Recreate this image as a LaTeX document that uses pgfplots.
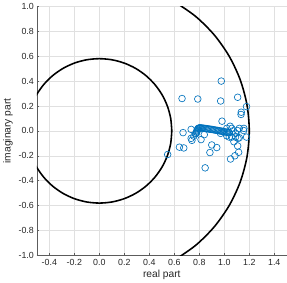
\documentclass[border=0pt]{standalone}
\usepackage{pgfplots}
\pgfplotsset{compat=1.18}
\usepackage{fontspec}
\setmainfont{Liberation Sans}
\definecolor{mblue}{RGB}{0,114,189}
\definecolor{gridc}{gray}{0.88}
\definecolor{axc}{gray}{0.15}
\begin{document}
\begin{tikzpicture}
\begin{axis}[
  scale only axis,
  width=254pt, height=253pt,
  xmin=-0.5, xmax=1.5, ymin=-1, ymax=1,
  xtick={-0.4,-0.2,0,0.2,0.4,0.6,0.8,1.0,1.2,1.4},
  ytick={-1,-0.8,-0.6,-0.4,-0.2,0,0.2,0.4,0.6,0.8,1.0},
  /pgf/number format/assume math mode=true,
  /pgf/number format/.cd, fixed, fixed zerofill, precision=1, /pgfplots/.cd,
  tick label style={font=\fontsize{9}{10}\selectfont, text=axc},
  label style={font=\fontsize{10.4}{12}\selectfont, text=axc},
  xticklabel style={yshift=-1pt},
  yticklabel style={xshift=0.5pt},
  xlabel={real part}, ylabel={imaginary part},
  xlabel style={yshift=3pt}, ylabel style={yshift=-1pt},
  axis x line*=bottom, axis y line*=left,
  axis line style={-, draw=axc!75, line width=0.5pt},
  tick align=inside, major tick length=2.5pt,
  tick style={draw=axc!75, line width=0.5pt},
  grid=major, major grid style={draw=gridc, line width=0.4pt},
  clip=true,
]
% inner circle r=0.58
\addplot[black, line width=1.6pt, smooth] coordinates {
(0.58,0) (0.5712,0.1007) (0.5450,0.1984) (0.5023,0.29) (0.4443,0.3728) (0.3728,0.4443)
(0.29,0.5023) (0.1984,0.5450) (0.1007,0.5712) (0,0.58) (-0.1007,0.5712) (-0.1984,0.5450)
(-0.29,0.5023) (-0.3728,0.4443) (-0.4443,0.3728) (-0.5023,0.29) (-0.5450,0.1984) (-0.5712,0.1007)
(-0.58,0) (-0.5712,-0.1007) (-0.5450,-0.1984) (-0.5023,-0.29) (-0.4443,-0.3728) (-0.3728,-0.4443)
(-0.29,-0.5023) (-0.1984,-0.5450) (-0.1007,-0.5712) (0,-0.58) (0.1007,-0.5712) (0.1984,-0.5450)
(0.29,-0.5023) (0.3728,-0.4443) (0.4443,-0.3728) (0.5023,-0.29) (0.5450,-0.1984) (0.5712,-0.1007) (0.58,0)
};
% outer circle r=1.2
\addplot[black, line width=1.6pt, smooth] coordinates {
(0.6,-1.0392) (0.7713,-0.9193) (0.9193,-0.7713) (1.0392,-0.6) (1.1276,-0.4104) (1.1818,-0.2084)
(1.2,0) (1.1818,0.2084) (1.1276,0.4104) (1.0392,0.6) (0.9193,0.7713) (0.7713,0.9193) (0.6,1.0392)
};
% eigenvalues
\addplot[only marks, mark=o, mark size=3.4pt, mblue, mark options={line width=0.65pt}] coordinates {
(0.662,0.26) (0.788,0.256) (0.976,0.40) (0.971,0.24) (0.982,0.078) (1.107,0.27)
(1.178,0.195) (1.136,0.15) (1.134,0.132) (1.157,0.02) (1.178,-0.05) (1.11,-0.06)
(1.077,-0.087) (1.107,-0.121) (1.115,-0.172) (1.085,-0.2) (1.05,-0.226) (0.847,-0.297)
(0.885,-0.174) (0.9,-0.113) (0.94,-0.134) (0.814,-0.07) (0.741,-0.076) (0.735,-0.06)
(0.676,-0.137) (0.641,-0.131) (0.67,-0.014) (0.735,0.012) (0.547,-0.19) (0.757,-0.042)
(0.77,-0.024) (0.78,-0.01) (0.84,-0.03) (1.02,-0.04) (1.04,-0.015) (1.06,0.02)
(1.07,0.0) (1.09,-0.02) (1.105,0.003) (1.12,0.02) (1.12,-0.055) (1.02,0.02)
(1.047,0.037) (0.97,-0.02) (1.155,0.003) (1.09,-0.05) (1.06,-0.05) (1.04,-0.05)
(0.775,-0.02) (0.778,-0.01) (0.781,0) (0.784,0.008) (0.788,0.015) (0.792,0.02)
(0.797,0.023) (0.803,0.024) (0.81,0.024) (0.818,0.023) (0.826,0.022) (0.835,0.021)
(0.845,0.02) (0.855,0.018) (0.865,0.017) (0.875,0.015) (0.885,0.014) (0.895,0.012)
(0.905,0.011) (0.915,0.009) (0.925,0.007) (0.935,0.005) (0.945,0.004) (0.955,0.002)
(0.965,0) (0.975,-0.002) (0.985,-0.004) (0.995,-0.006) (1.005,-0.008) (1.015,-0.01)
(1.025,-0.012) (1.035,-0.014)
};
\end{axis}
\end{tikzpicture}
\end{document}
